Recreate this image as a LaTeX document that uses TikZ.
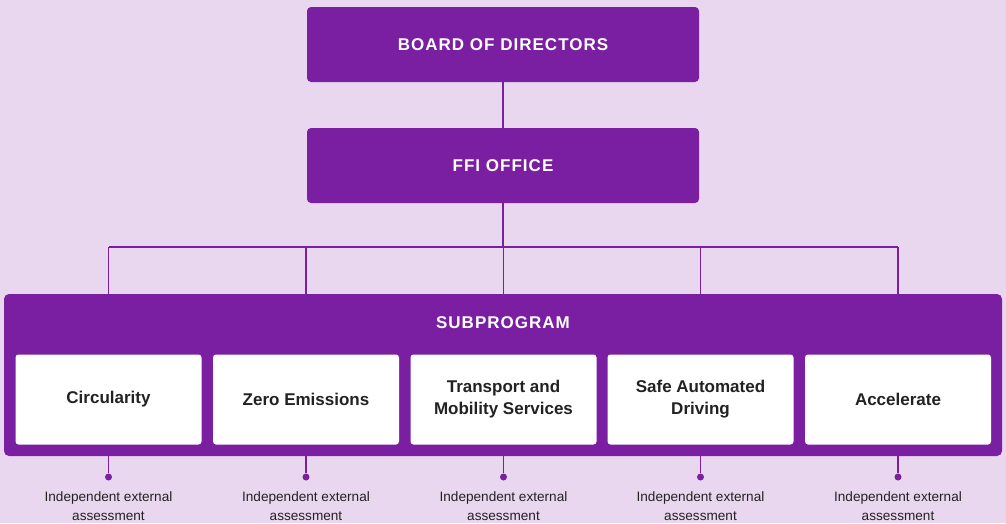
\documentclass[tikz,border=0pt]{standalone}
\usepackage{fontspec}
\setmainfont{Liberation Sans}
\definecolor{bgc}{HTML}{E9D7F0}
\definecolor{purp}{HTML}{7A1FA2}
\definecolor{txt}{HTML}{222222}
\begin{document}
\begin{tikzpicture}[x=1pt,y=-1pt,
  topbox/.style={fill=purp,rounded corners=4pt,minimum width=392pt,minimum height=75pt,inner sep=0pt,text=white,font=\fontsize{17}{20}\selectfont\bfseries\addfontfeature{LetterSpace=6}},
  subbox/.style={fill=white,rounded corners=3pt,minimum width=186pt,minimum height=90pt,inner sep=0pt,text=txt,align=center,font=\fontsize{17}{22}\selectfont\bfseries},
  link/.style={draw=purp,line width=1.4pt},
  dotc/.style={circle,fill=purp,inner sep=0pt,minimum size=7pt},
  note/.style={text=txt,align=center,font=\fontsize{13.6}{19}\selectfont,inner sep=0pt}]
\useasboundingbox[fill=bgc] (0,0) rectangle (1006,523);
\node[topbox] (board) at (503,44.5) {BOARD OF DIRECTORS};
\node[topbox] (ffi) at (503,165.5) {FFI OFFICE};
\node[fill=purp,rounded corners=5pt,minimum width=998pt,minimum height=162pt,inner sep=0pt] (sub) at (503,375) {};
\node[text=white,font=\fontsize{17}{20}\selectfont\bfseries\addfontfeature{LetterSpace=6},inner sep=0pt] (subt) at (503,323) {SUBPROGRAM};
\coordinate (bus) at (503,247);
\draw[link] (board.south) -- (ffi.north);
\draw[link] (ffi.south) -- (bus);
\foreach \n/\x/\t in {c1/108.5/Circularity, c2/306/Zero Emissions, c3/503.5/{Transport and\\Mobility Services}, c4/700.5/{Safe Automated\\Driving}, c5/898/Accelerate}{
  \node[subbox] (\n) at (\x,399.5) {\t};
  \coordinate (t\n) at (\x,247);
  \coordinate (s\n) at (\x,294);
  \coordinate (b\n) at (\x,456);
  \node[dotc] (d\n) at (\x,477) {};
  \node[note] (n\n) at (\x,506) {Independent external\\assessment};
  \draw[link] (t\n) -- (s\n);
  \draw[link] (b\n) -- (d\n);
}
\draw[link] (tc1) -- (tc5);
\end{tikzpicture}
\end{document}
